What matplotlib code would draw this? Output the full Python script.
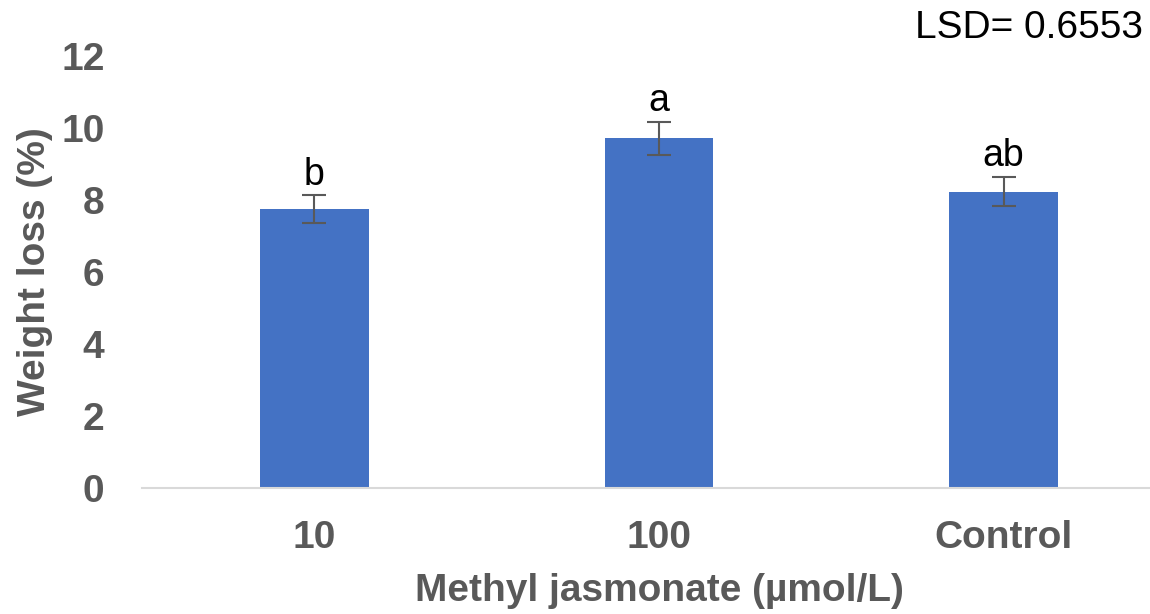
import matplotlib.pyplot as plt

plt.rcParams["font.family"] = ["Liberation Sans", "DejaVu Sans"]

# weight loss by methyl jasmonate dose
doses = ["10", "100", "Control"]
weight_loss = [7.74, 9.71, 8.23]
std_err = [0.39, 0.47, 0.41]
groups = ["b", "a", "ab"]
lsd = 0.6553

fig = plt.figure(figsize=(11.5, 6.14), dpi=100)
ax = fig.add_axes([0.1235, 0.2052, 0.899, 0.7036])

x = range(len(doses))
ax.bar(x, weight_loss, width=0.316, color="#4472C4", zorder=2)
ax.errorbar(x, weight_loss, yerr=std_err, fmt="none", ecolor="#595959",
            elinewidth=1.5, capsize=8.5, capthick=1.5, zorder=3)

for xi, m, e, g in zip(x, weight_loss, std_err, groups):
    ax.annotate(g, (xi, m + e), xytext=(0, 2), textcoords="offset points",
                ha="center", va="bottom", fontsize=27, color="black")

ax.set_xlim(-0.5, 2.5)
ax.set_ylim(0, 12)
ax.set_yticks(range(0, 13, 2))
ax.set_xticks(list(x))
ax.set_xticklabels(doses)

for side in ("top", "right", "left"):
    ax.spines[side].set_visible(False)
ax.spines["bottom"].set_color("#d9d9d9")
ax.spines["bottom"].set_linewidth(1.5)

ax.tick_params(axis="both", length=0, labelsize=28, labelcolor="#595959")
ax.tick_params(axis="x", pad=23)
ax.tick_params(axis="y", pad=27)
for lbl in ax.get_xticklabels() + ax.get_yticklabels():
    lbl.set_fontweight("bold")

ax.set_xlabel("Methyl jasmonate (\u00b5mol/L)", fontsize=28, fontweight="bold",
              color="#595959", labelpad=12)
ax.set_ylabel("Weight loss (%)", fontsize=28, fontweight="bold",
              color="#595959", labelpad=6)

fig.text(0.994, 0.955, f"LSD= {lsd}", ha="right", va="center", fontsize=28,
         color="black")

fig.savefig("out.png", dpi=100)
